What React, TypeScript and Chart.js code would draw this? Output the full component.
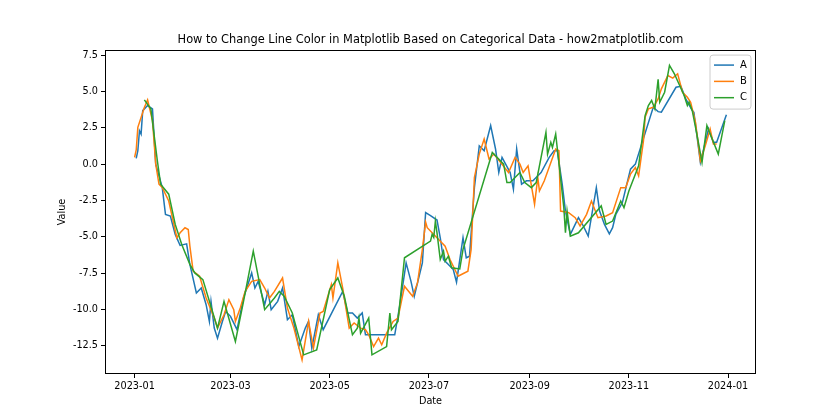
import { useEffect, useRef } from "react";
import { Chart, registerables } from "chart.js";

Chart.register(...registerables);

const TITLE = "How to Change Line Color in Matplotlib Based on Categorical Data - how2matplotlib.com";
const X_TITLE = "Date";
const Y_TITLE = "Value";
const xTickDays = [0, 59, 120, 181, 243, 304, 365];
const xTickLabels = ["2023-01", "2023-03", "2023-05", "2023-07", "2023-09", "2023-11", "2024-01"];
const yTicks = [-12.5, -10, -7.5, -5, -2.5, 0, 2.5, 5, 7.5];
const seriesLabels = ["A", "B", "C"];
const seriesColors = ["#1f77b4", "#ff7f0e", "#2ca02c"];

// days since 2023-01-01
const daysA = [1, 2, 3, 4, 5, 8, 11, 13, 17, 19, 22, 25, 28, 32, 34, 38, 41, 44, 46, 47, 49, 51, 54, 56, 59, 63, 67, 72, 74, 76, 80, 82, 84, 88, 91, 94, 97, 101, 105, 107, 109, 113, 116, 128, 131, 134, 137, 140, 142, 160, 163, 167, 170, 172, 177, 179, 182, 186, 188, 190, 193, 196, 198, 202, 204, 206, 209, 212, 215, 219, 222, 224, 226, 231, 233, 235, 238, 241, 245, 250, 255, 258, 260, 263, 265, 268, 273, 276, 279, 284, 286, 289, 292, 294, 296, 300, 305, 308, 319, 322, 324, 333, 336, 339, 343, 344, 348, 353, 356, 358, 364];
const valuesA = [0.39, 0.92, 2.3, 2.07, 3.68, 4.03, 3.8, 0.0, -1.6, -3.46, -3.57, -4.84, -5.6, -5.49, -6.91, -8.87, -8.53, -9.68, -10.83, -9.45, -11.29, -11.98, -10.83, -10.14, -10.48, -11.4, -9.22, -7.49, -8.53, -8.07, -9.68, -8.76, -10.02, -9.45, -8.53, -10.71, -10.37, -12.56, -11.29, -10.83, -12.67, -10.37, -11.4, -8.76, -10.25, -10.25, -10.6, -10.25, -11.75, -11.75, -9.79, -6.8, -8.07, -9.1, -6.8, -3.34, -3.55, -3.85, -5.07, -6.57, -6.91, -7.26, -8.13, -5.07, -6.45, -6.34, -1.62, 1.26, 0.92, 2.65, 1.04, -0.58, 0.46, -0.58, -1.73, 1.04, -1.38, -1.15, -1.15, -0.58, 0.46, 0.92, 0.92, -1.38, -3.23, -4.84, -3.69, -4.26, -4.96, -1.62, -3.23, -4.15, -4.8, -4.38, -3.46, -2.65, -0.35, 0.0, 3.91, 3.61, 3.57, 5.29, 5.36, 4.49, 3.68, 3.57, 0.11, 2.42, 1.5, 1.5, 3.4];

const daysB = [0, 1, 2, 6, 8, 11, 13, 15, 17, 21, 26, 28, 31, 33, 34, 36, 40, 44, 49, 51, 55, 58, 61, 62, 65, 68, 72, 77, 80, 83, 86, 91, 94, 98, 103, 107, 110, 114, 116, 121, 122, 125, 128, 132, 135, 139, 142, 144, 147, 150, 152, 155, 159, 162, 166, 171, 174, 177, 179, 180, 191, 194, 199, 201, 205, 207, 209, 212, 215, 218, 221, 230, 234, 237, 239, 242, 246, 248, 249, 252, 259, 261, 262, 267, 271, 274, 278, 281, 285, 290, 294, 299, 302, 305, 308, 310, 313, 314, 316, 319, 322, 324, 328, 331, 334, 337, 340, 342, 345, 348, 351, 354, 356, 358];
const valuesB = [0.46, 0.97, 2.53, 3.9, 4.42, 3.0, 0.0, -1.38, -1.6, -2.54, -5.07, -4.73, -4.38, -4.5, -5.65, -7.37, -7.72, -9.22, -10.6, -11.29, -10.37, -9.33, -10.02, -10.83, -9.91, -8.76, -8.07, -7.95, -8.53, -9.22, -8.76, -7.84, -9.91, -11.29, -13.48, -10.83, -12.67, -10.25, -10.14, -8.3, -9.22, -6.8, -8.53, -11.29, -10.94, -11.29, -11.4, -11.75, -12.56, -11.98, -12.44, -11.64, -10.83, -10.6, -8.41, -9.1, -8.18, -5.87, -3.99, -4.38, -5.65, -6.57, -7.72, -7.6, -7.37, -5.87, -0.92, 0.69, 1.73, 0.35, 0.69, -0.58, 0.46, 0.0, -0.58, -0.12, -2.76, -0.92, -1.85, -1.15, 1.04, 0.92, -3.23, -3.34, -3.69, -4.26, -3.46, -2.54, -3.69, -3.57, -3.34, -1.62, -1.62, -0.69, -0.23, -0.81, 1.61, 3.22, 3.8, 3.91, 4.49, 5.18, 6.1, 5.92, 6.22, 4.95, 4.6, 4.26, 2.88, 0.23, 1.26, 2.42, 1.38, 1.38];

const daysC = [6, 10, 14, 16, 21, 25, 29, 34, 37, 42, 51, 55, 62, 67, 73, 80, 86, 89, 92, 97, 104, 112, 120, 125, 129, 134, 137, 138, 139, 144, 146, 155, 157, 158, 162, 166, 182, 183, 184, 185, 186, 188, 190, 191, 193, 195, 200, 202, 220, 227, 229, 231, 237, 240, 244, 247, 253, 254, 256, 257, 259, 264, 265, 266, 268, 273, 287, 290, 294, 299, 301, 304, 310, 314, 316, 318, 320, 322, 323, 326, 329, 332, 338, 340, 341, 343, 346, 349, 352, 354, 359, 363];
const valuesC = [4.42, 3.8, 0.23, -1.38, -2.07, -4.15, -5.53, -6.9, -7.49, -7.95, -11.29, -9.45, -12.21, -9.45, -5.99, -10.02, -9.22, -8.76, -9.1, -10.25, -13.13, -12.79, -8.64, -7.84, -9.1, -11.75, -11.29, -10.6, -11.64, -10.6, -13.13, -12.56, -10.25, -11.4, -10.83, -6.45, -5.3, -4.84, -5.05, -3.92, -4.73, -6.57, -5.99, -6.68, -6.34, -7.14, -7.22, -5.87, 0.8, 0.0, -1.27, -1.27, -0.58, -1.27, -1.62, -1.27, 2.18, 0.69, 1.5, 1.15, 2.07, -3.0, -4.73, -3.23, -4.96, -4.73, -2.88, -4.15, -3.92, -2.54, -3.0, -1.85, -0.12, 3.34, 4.03, 4.38, 3.8, 5.83, 4.26, 4.95, 6.79, 6.22, 4.72, 4.03, 4.26, 3.68, 1.96, 0.11, 2.65, 2.07, 0.69, 2.99];

const FONT = "'DejaVu Sans', sans-serif";

export default function App() {
  const ref = useRef<HTMLCanvasElement>(null);

  useEffect(() => {
    const toPts = (d: number[], v: number[]) => d.map((x, i) => ({ x, y: v[i] }));
    const allDays = [daysA, daysB, daysC];
    const allVals = [valuesA, valuesB, valuesC];

    const framePlugin = {
      id: "frame",
      afterDatasetsDraw(chart: any) {
        const { ctx, chartArea: a } = chart;
        ctx.save();
        ctx.strokeStyle = "#000";
        ctx.lineWidth = 1;
        const l = Math.round(a.left) + 0.5;
        const t = Math.round(a.top) + 0.5;
        const r = Math.round(a.right) - 0.5;
        const b = Math.round(a.bottom) - 0.5;
        ctx.strokeRect(l, t, r - l, b - t);
        ctx.restore();
      },
    };

    const legendPlugin = {
      id: "mplLegend",
      afterDraw(chart: any) {
        const { ctx, chartArea: a } = chart;
        const w = 41;
        const h = 54;
        const x = a.right - 5 - w;
        const y = a.top + 5;
        ctx.save();
        ctx.beginPath();
        const r = 3;
        ctx.moveTo(x + r, y);
        ctx.lineTo(x + w - r, y);
        ctx.quadraticCurveTo(x + w, y, x + w, y + r);
        ctx.lineTo(x + w, y + h - r);
        ctx.quadraticCurveTo(x + w, y + h, x + w - r, y + h);
        ctx.lineTo(x + r, y + h);
        ctx.quadraticCurveTo(x, y + h, x, y + h - r);
        ctx.lineTo(x, y + r);
        ctx.quadraticCurveTo(x, y, x + r, y);
        ctx.closePath();
        ctx.fillStyle = "rgba(255,255,255,0.8)";
        ctx.fill();
        ctx.strokeStyle = "#cccccc";
        ctx.lineWidth = 1;
        ctx.stroke();
        chart.data.datasets.forEach((ds: any, i: number) => {
          const ly = y + 10 + i * 16.3;
          ctx.beginPath();
          ctx.strokeStyle = ds.borderColor;
          ctx.lineWidth = 1.5;
          ctx.moveTo(x + 4, ly);
          ctx.lineTo(x + 24, ly);
          ctx.stroke();
          ctx.fillStyle = "#000";
          ctx.font = `10px ${FONT}`;
          ctx.textBaseline = "middle";
          ctx.textAlign = "left";
          ctx.fillText(ds.label, x + 30, ly);
        });
        ctx.restore();
      },
    };

    const chart = new Chart(ref.current as HTMLCanvasElement, {
      type: "line",
      data: {
        datasets: seriesLabels.map((label, i) => ({
          label,
          data: toPts(allDays[i], allVals[i]),
          borderColor: seriesColors[i],
          backgroundColor: seriesColors[i],
          borderWidth: 1.5,
          pointRadius: 0,
          tension: 0,
          fill: false,
          order: 3 - i,
        })),
      },
      options: {
        animation: false,
        responsive: false,
        maintainAspectRatio: false,
        layout: { padding: { left: 0, right: 84, top: 0, bottom: 0 } },
        plugins: {
          legend: { display: false },
          tooltip: { enabled: false },
          title: {
            display: true,
            text: TITLE,
            fullSize: false,
            color: "#000",
            font: { family: FONT, size: 11.4, weight: "normal" },
            padding: { top: 33, bottom: 3.4 },
          },
        },
        scales: {
          x: {
            type: "linear",
            min: -18.2,
            max: 382.2,
            afterFit: (s: any) => {
              s.height = 46;
            },
            afterBuildTicks: (s: any) => {
              s.ticks = xTickDays.map((v) => ({ value: v }));
            },
            ticks: {
              autoSkip: false,
              maxRotation: 0,
              color: "#000",
              padding: 3,
              font: { family: FONT, size: 9.7 },
              callback: (v: any) => {
                const i = xTickDays.indexOf(Number(v));
                return i >= 0 ? xTickLabels[i] : "";
              },
            },
            grid: { display: true, drawOnChartArea: false, drawTicks: true, tickLength: 4, color: "#000", lineWidth: 1 },
            border: { display: false },
            title: { display: true, text: X_TITLE, color: "#000", font: { family: FONT, size: 9.7 }, padding: { top: 0, bottom: 13 } },
          },
          y: {
            type: "linear",
            min: -14.45,
            max: 7.85,
            afterFit: (s: any) => {
              s.width = 105;
            },
            afterBuildTicks: (s: any) => {
              s.ticks = yTicks.map((v) => ({ value: v }));
            },
            ticks: {
              autoSkip: false,
              color: "#000",
              padding: 3,
              font: { family: FONT, size: 9.7 },
              callback: (v: any) => Number(v).toFixed(1),
            },
            grid: { display: true, drawOnChartArea: false, drawTicks: true, tickLength: 4, color: "#000", lineWidth: 1 },
            border: { display: false },
            title: { display: true, text: Y_TITLE, color: "#000", font: { family: FONT, size: 9.7 }, padding: { top: 57, bottom: 0 } },
          },
        },
      },
      plugins: [framePlugin, legendPlugin],
    } as any);

    return () => chart.destroy();
  }, []);

  return (
    <div style={{ position: "absolute", left: 0, top: 0, width: 840, height: 420, background: "#fff" }}>
      <canvas ref={ref} width={840} height={420} style={{ display: "block" }} />
    </div>
  );
}
